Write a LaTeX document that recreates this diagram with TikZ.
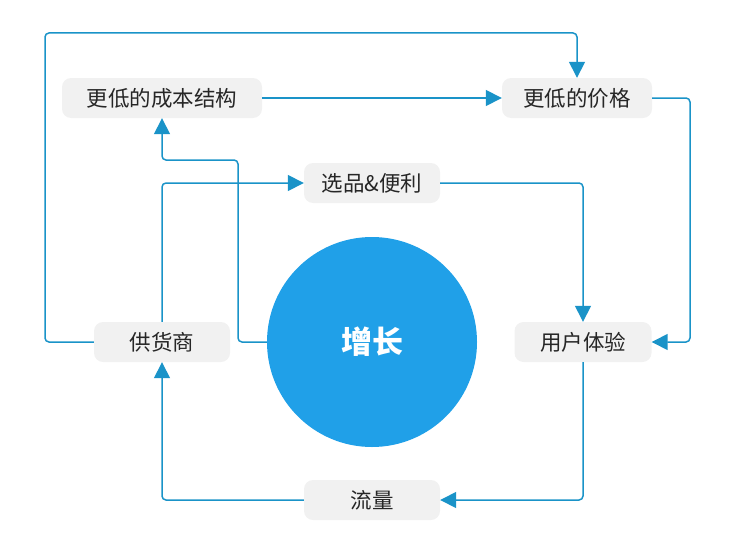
\documentclass[tikz,border=0pt]{standalone}
\usepackage{fontspec}
\newfontfamily\cjk{Noto Sans CJK SC}
\usetikzlibrary{arrows.meta}
\definecolor{ln}{HTML}{1A93C8}
\definecolor{bx}{HTML}{F1F1F1}
\definecolor{cir}{HTML}{20A0E8}
\begin{document}
\begin{tikzpicture}[x=1pt,y=-1pt,
  box/.style={fill=bx,rounded corners=9pt,minimum height=40pt,inner sep=0pt,font=\cjk\fontsize{21.5}{24}\selectfont,text=black!85},
  con/.style={draw=ln,line width=1.5pt,rounded corners=4pt,-{Triangle[length=16pt,width=16pt]}}]
\useasboundingbox (0,0) rectangle (746,535);
\node[box,minimum width=200pt] (cost) at (162,98) {更低的成本结构};
\node[box,minimum width=150pt] (price) at (577,98) {更低的价格};
\node[box,minimum width=136pt] (sel) at (372,183) {选品\&便利};
\node[box,minimum width=136pt] (sup) at (162,342) {供货商};
\node[box,minimum width=137pt] (ux) at (583,342) {用户体验};
\node[box,minimum width=136pt] (flow) at (372,500) {流量};
\node[circle,fill=cir,minimum size=210pt,inner sep=0pt,text=white,font=\cjk\bfseries\fontsize{31}{34}\selectfont] (g) at (372,342) {增长};
\draw[con] (cost.east) -- (price.west);
\draw[con] (price.east) -- (690,98) -- (690,342) -- (ux.east);
\draw[con] (sel.east) -- (583,183) -- (ux.north);
\draw[con] (ux.south) -- (583,500) -- (flow.east);
\draw[con] (flow.west) -- (162,500) -- (sup.south);
\draw[con] (sup.west) -- (45,342) -- (45,33) -- (577,33) -- (price.north);
\draw[con] (sup.north) -- (162,183) -- (sel.west);
\draw[con] (g.west) -- (238,342) -- (238,160) -- (162,160) -- (cost.south);
\end{tikzpicture}
\end{document}
